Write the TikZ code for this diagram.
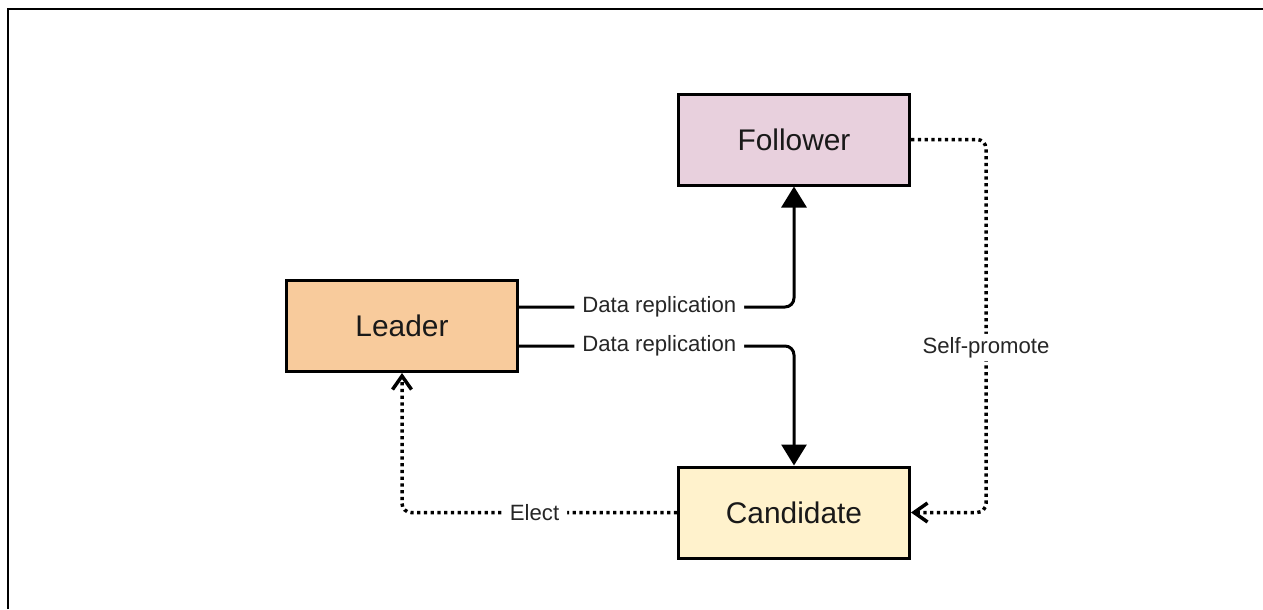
\documentclass[tikz,border=0pt]{standalone}
\usepackage{fontspec}
\setmainfont{Liberation Sans}
\usepackage{tikz}
\usetikzlibrary{positioning}
\usetikzlibrary{arrows.meta}
\usepackage{xcolor}

\definecolor{followerpink}{HTML}{E8D0DD}
\definecolor{leaderorange}{HTML}{F8CB9C}
\definecolor{candidateyellow}{HTML}{FFF2CC}

\begin{document}
\begin{tikzpicture}[
    state/.style={draw=black, line width=0.06cm, minimum width=4.62cm, minimum height=1.82cm,
        font=\fontsize{17}{20}\selectfont, text=black!90},
    edgelabel/.style={fill=white, inner xsep=0.16cm, inner ysep=2pt, text=black!85,
        font=\fontsize{12.6}{15}\selectfont},
    solidarrow/.style={line width=0.06cm, rounded corners=0.18cm, -{Triangle[width=0.5cm,length=0.42cm]}},
    dotarrow/.style={line width=0.07cm, rounded corners=0.18cm, dash pattern=on 0.065cm off 0.07cm,
        -{Straight Barb[length=0.27cm,width=0.38cm,line width=0.07cm]}}
]
\useasboundingbox (0,0) rectangle (25.26,-12.18);

%%%%%%%%%% Frame %%%%%%%%
\draw[line width=0.04cm] (0.16,-12.18)--(0.16,-0.18)--(25.26,-0.18);

%%%%%%%%%%%%     States   %%%%%%%%%%%%
{
\node[state, fill=followerpink] (follower) at (15.88,-2.79) {Follower};
\node[state, fill=leaderorange] (leader) at (8.04,-6.52) {Leader};
\node[state, fill=candidateyellow] (candidate) at (15.88,-10.25) {Candidate};
}

%%%%%%%%%%%%     Replication   %%%%%%%%%%%%
{
\draw[solidarrow] ([yshift=0.38cm]leader.east) -| node[edgelabel, pos=0.255]{Data replication} (follower.south);
\draw[solidarrow] ([yshift=-0.40cm]leader.east) -| node[edgelabel, pos=0.255]{Data replication} (candidate.north);
}

%%%%%%%%%%%%     Election   %%%%%%%%%%%%
{
\draw[dotarrow] (candidate.west) -| node[edgelabel, pos=0.259]{Elect} (leader.south);
\draw[dotarrow] (follower.east)--++(1.5,0) |- node[edgelabel, pos=0.279]{Self-promote} (candidate.east);
}

\end{tikzpicture}
\end{document}
